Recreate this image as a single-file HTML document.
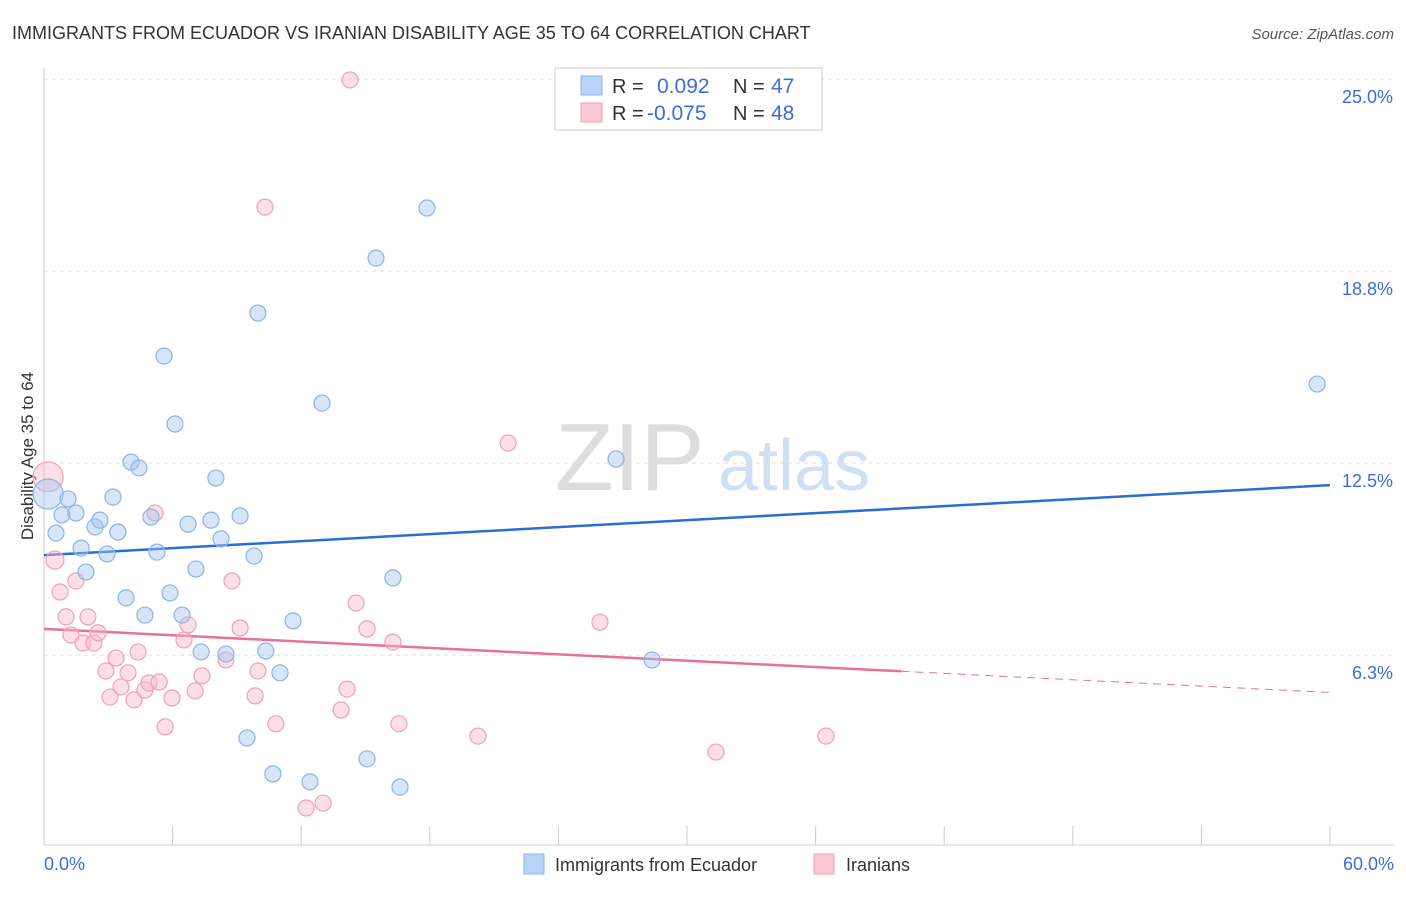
<!DOCTYPE html>
<html><head><meta charset="utf-8"><style>
body{margin:0;background:#fff;font-family:"Liberation Sans",sans-serif;}
svg text{font-family:"Liberation Sans",sans-serif;}
</style></head><body>
<svg id="c" width="1406" height="892" xmlns="http://www.w3.org/2000/svg">
<text x="12" y="39" font-size="18" fill="#333">IMMIGRANTS FROM ECUADOR VS IRANIAN DISABILITY AGE 35 TO 64 CORRELATION CHART</text>
<text x="1394" y="39" font-size="15" fill="#555" font-style="italic" text-anchor="end">Source: ZipAtlas.com</text>
<text x="33" y="456" font-size="17" fill="#333" text-anchor="middle" transform="rotate(-90 33 456)">Disability Age 35 to 64</text>
<g>
<text x="555" y="490" font-size="96" fill="#ddd" font-family="Liberation Serif">ZIP</text>
<text x="718" y="490" font-size="72" fill="#cfe0f4">atlas</text>
</g>
<g id="grid"></g><g id="axes"></g><g id="lines"></g><g id="pts"></g>
<g>
<rect x="555" y="68" width="267" height="62" fill="#fff" stroke="#ccc"/>
<rect x="581" y="76" width="21" height="19" fill="#b8d3f5" stroke="#8ab4e8"/>
<rect x="581" y="103" width="21" height="19" fill="#fbc8d6" stroke="#f0a0b8"/>
<text x="612" y="93" font-size="20" fill="#333">R =</text><text x="657" y="93" font-size="21" fill="#3a6fd8">0.092</text>
<text x="733" y="93" font-size="20" fill="#333">N =</text><text x="771" y="93" font-size="21" fill="#3a6fd8">47</text>
<text x="612" y="120" font-size="20" fill="#333">R =</text><text x="647" y="120" font-size="21" fill="#3a6fd8">-0.075</text>
<text x="733" y="120" font-size="20" fill="#333">N =</text><text x="771" y="120" font-size="21" fill="#3a6fd8">48</text>
</g>
<g>
<rect x="524" y="854" width="20" height="20" fill="#b8d3f5" stroke="#8ab4e8"/>
<text x="555" y="871" font-size="18" fill="#333">Immigrants from Ecuador</text>
<rect x="814" y="854" width="20" height="20" fill="#fbc8d6" stroke="#f0a0b8"/>
<text x="846" y="871" font-size="18" fill="#333">Iranians</text>
</g>
</svg>
<script>
const yTicks=[25.0,18.75,12.5,6.25];
const yTickLabels=["25.0%","18.8%","12.5%","6.3%"];
const xTicks=[0,6,12,18,24,30,36,42,48,54,60];
const blueX=[0.19,0.56,0.84,1.12,1.49,1.73,1.96,2.38,2.61,2.94,3.22,3.45,3.83,4.06,4.43,4.71,4.99,5.27,5.6,5.88,6.11,6.44,6.72,7.09,7.33,7.79,8.02,8.26,8.49,9.15,9.47,9.8,9.98,10.35,10.68,11.01,11.62,12.41,12.97,15.07,15.49,16.28,16.61,17.87,26.69,28.37,59.4];
const blueY=[11.49,10.22,10.81,11.33,10.87,9.73,8.95,10.42,10.64,9.54,11.39,10.25,8.11,12.53,12.34,7.55,10.74,9.60,15.98,8.27,13.77,7.55,10.51,9.05,6.35,10.64,12.01,10.03,6.28,10.78,3.55,9.47,17.38,6.38,2.38,5.67,7.36,2.12,14.45,2.87,19.17,8.76,1.95,20.80,12.63,6.09,15.07];
const pinkX=[0.19,0.51,0.75,1.03,1.26,1.49,1.82,2.05,2.33,2.52,2.89,3.08,3.36,3.59,3.92,4.2,4.39,4.71,4.9,5.18,5.37,5.65,5.97,6.53,6.72,7.05,7.37,8.49,8.77,9.15,9.85,9.98,10.31,10.82,12.23,13.02,13.86,14.14,14.28,14.56,15.07,16.28,16.56,20.25,21.65,25.94,31.35,36.48];
const pinkY=[12.05,9.34,8.30,7.49,6.90,8.66,6.64,7.49,6.64,6.97,5.73,4.88,6.15,5.21,5.67,4.79,6.35,5.11,5.34,10.87,5.37,3.91,4.85,6.74,7.23,5.08,5.57,6.09,8.66,7.13,4.92,5.73,20.83,4.01,1.27,1.43,4.46,5.14,24.97,7.94,7.10,6.67,4.01,3.61,13.15,7.32,3.09,3.61];
const blueR=[15,8,8,8,8,8,8,8,8,8,8,8,8,8,8,8,8,8,8,8,8,8,8,8,8,8,8,8,8,8,8,8,8,8,8,8,8,8,8,8,8,8,8,8,8,8,8];
const pinkR=[15,9,8,8,8,8,8,8,8,8,8,8,8,8,8,8,8,8,8,8,8,8,8,8,8,8,8,8,8,8,8,8,8,8,8,8,8,8,8,8,8,8,8,8,8,8,8,8];
const blueTrend=[9.5,11.78];
const pinkTrend=[7.1,5.03];
const pinkSolidEnd=40;
const NS="http://www.w3.org/2000/svg";
const X=v=>44+v/60*1286, Y=v=>79+(25-v)*30.72;
function mk(t,a,p){const e=document.createElementNS(NS,t);for(const k in a)e.setAttribute(k,a[k]);p.appendChild(e);return e;}
const g=document.getElementById('grid'),ax=document.getElementById('axes'),ln=document.getElementById('lines'),pt=document.getElementById('pts');
yTicks.forEach((v,i)=>{
 const l=mk('line',{x1:44,x2:1394,y1:Y(v),y2:Y(v),stroke:'#ddd','stroke-dasharray':'4,4'},g);
 
 
 const t=mk('text',{x:1393,y:Y(v)+24,'font-size':18,fill:'#3a6fd8','text-anchor':'end'},ax);t.textContent=yTickLabels[i];
 
 
});
mk('line',{x1:44,x2:44,y1:68,y2:845,stroke:'#ccc'},ax);
const xa=mk('line',{x1:44,x2:1394,y1:845,y2:845,stroke:'#ccc'},ax);


xTicks.forEach(v=>{const t=mk('line',{x1:X(v),x2:X(v),y1:826,y2:845,stroke:'#ccc'},ax);
 
 });
let t0=mk('text',{x:44,y:870,'font-size':18,fill:'#3a6fd8'},ax);t0.textContent='0.0%';


let t1=mk('text',{x:1394,y:870,'font-size':18,fill:'#3a6fd8','text-anchor':'end'},ax);t1.textContent='60.0%';


function dot(x,y,r,f,s,n){const c=mk('circle',{cx:X(x),cy:Y(y),r:r,fill:f,stroke:s,'stroke-width':1.2},pt);
 
 }
pinkX.forEach((x,i)=>dot(x,pinkY[i],pinkR[i],'rgba(248,185,205,0.45)','#f0a0b8','iranians-point'));
blueX.forEach((x,i)=>dot(x,blueY[i],blueR[i],'rgba(165,198,240,0.45)','#8ab4e8','ecuador-point'));
const bl=mk('line',{x1:X(0),y1:Y(blueTrend[0]),x2:X(60),y2:Y(blueTrend[1]),stroke:'#2a6dd9','stroke-width':2.5},ln);


const pm=pinkTrend[0]+(pinkTrend[1]-pinkTrend[0])*pinkSolidEnd/60;
const pl=mk('line',{x1:X(0),y1:Y(pinkTrend[0]),x2:X(pinkSolidEnd),y2:Y(pm),stroke:'#e8709a','stroke-width':2.5},ln);


const pd=mk('line',{x1:X(pinkSolidEnd),y1:Y(pm),x2:X(60),y2:Y(pinkTrend[1]),stroke:'#e8709a','stroke-width':1,'stroke-dasharray':'8,6'},ln);


</script>
</body></html>
